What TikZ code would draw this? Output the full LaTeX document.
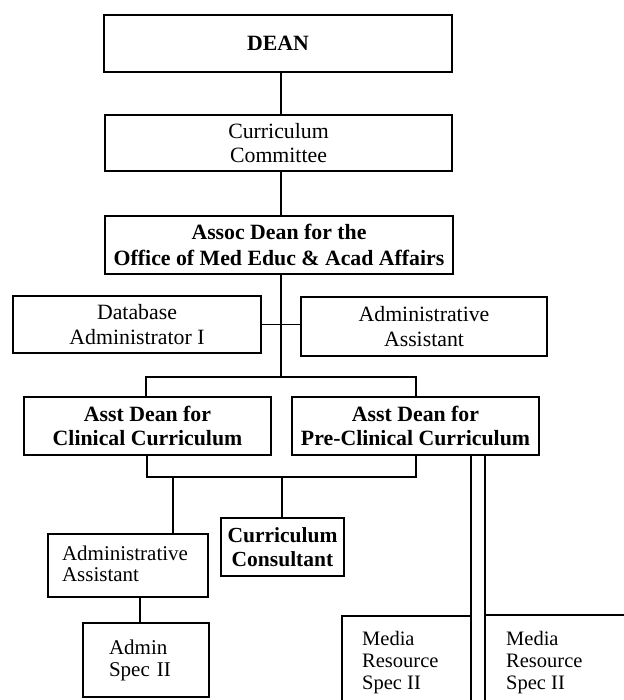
\documentclass[tikz,border=0pt]{standalone}
\usepackage{fontspec}
\setmainfont{Liberation Serif}
\begin{document}
\begin{tikzpicture}[x=1pt,y=-1pt,
  box/.style={draw, line width=1.4pt, inner sep=0pt, align=center,
    font=\fontsize{21.8}{24.5}\selectfont},
  boldbox/.style={box, font=\fontsize{21.8}{24.5}\selectfont\bfseries},
  leftbox/.style={box, align=left},
  plain/.style={inner sep=0pt, align=left, font=\fontsize{20.5}{22}\selectfont},
  link/.style={line width=1.4pt},
]
\useasboundingbox (0,0) rectangle (623,700);

% upper chain
\node[boldbox, minimum width=348, minimum height=57] (dean) at (278,43.5) {DEAN};
\node[box, minimum width=347, minimum height=56] (cc) at (278.5,143) {Curriculum\\Committee};
\node[boldbox, minimum width=348, minimum height=58] (assoc) at (279,245)
  {\raisebox{2pt}{Assoc Dean for the}\\Office of Med Educ \& Acad Affairs};

% staff beside the associate dean
\node[box, minimum width=248, minimum height=57] (db) at (137,324.5) {Database\\Administrator I};
\node[box, minimum width=246, minimum height=59] (aa1) at (424,326.5) {Administrative\\Assistant};

% assistant deans
\node[boldbox, minimum width=247, minimum height=58] (clin) at (147.5,426) {Asst Dean for\\Clinical Curriculum};
\node[boldbox, minimum width=247, minimum height=58] (pre) at (415.5,426) {Asst Dean for\\Pre-Clinical Curriculum};

% lower level
\node[leftbox, minimum width=160, minimum height=63, text width=132,
  font=\fontsize{21}{21}\selectfont] (aa2) at (128,565.5) {\raisebox{3pt}{Administrative}\\\raisebox{3pt}{Assistant}};
\node[boldbox, minimum width=123, minimum height=58, font=\fontsize{21.5}{24}\selectfont\bfseries]
  (cons) at (282.5,547) {Curriculum\\Consultant};
\node[leftbox, minimum width=126, minimum height=74, text width=74,
  font=\fontsize{21}{22}\selectfont] (spec) at (146,660) {Admin\\Spec II};

% media resource labels (boxes run off the page)
\node[plain, anchor=north west] (media1) at (362,631) {Media\\Resource\\Spec II};
\node[plain, anchor=north west] (media2) at (506,631) {Media\\Resource\\Spec II};

% connector geometry
\coordinate (spine) at (281,0);
\coordinate (split) at (281,377);
\coordinate (tl) at (146,377);
\coordinate (tr) at (416,377);
\coordinate (bl) at (147,477);
\coordinate (br) at (416,477);
\coordinate (ja) at (173,477);
\coordinate (jc) at (282,477);
\coordinate (js) at (140,0);
\coordinate (m1) at (471,702);
\coordinate (m2) at (485,702);
\coordinate (m1bl) at (342,702);
\coordinate (m1tl) at (342,616);
\coordinate (m2t) at (485,615);
\coordinate (m2end) at (625,615);

\draw[link] (dean.south -| spine) -- (cc.north -| spine);
\draw[link] (cc.south -| spine) -- (assoc.north -| spine);
\draw[link] (assoc.south -| spine) -- (split);
\draw[link] (db.east) -- (db.east -| aa1.west);
\draw[link] (clin.north -| tl) -- (tl) -- (tr) -- (pre.north -| tr);
\draw[link] (clin.south -| bl) -- (bl) -- (br) -- (pre.south -| br);
\draw[link] (ja) -- (aa2.north -| ja);
\draw[link] (jc) -- (cons.north -| jc);
\draw[link] (aa2.south -| js) -- (spec.north -| js);
\draw[link] (pre.south -| m1) -- (m1);
\draw[link] (pre.south -| m2) -- (m2);
\draw[link] (m1bl) -- (m1tl) -- (m1tl -| m1);
\draw[link] (m2t) -- (m2end);
\end{tikzpicture}
\end{document}
